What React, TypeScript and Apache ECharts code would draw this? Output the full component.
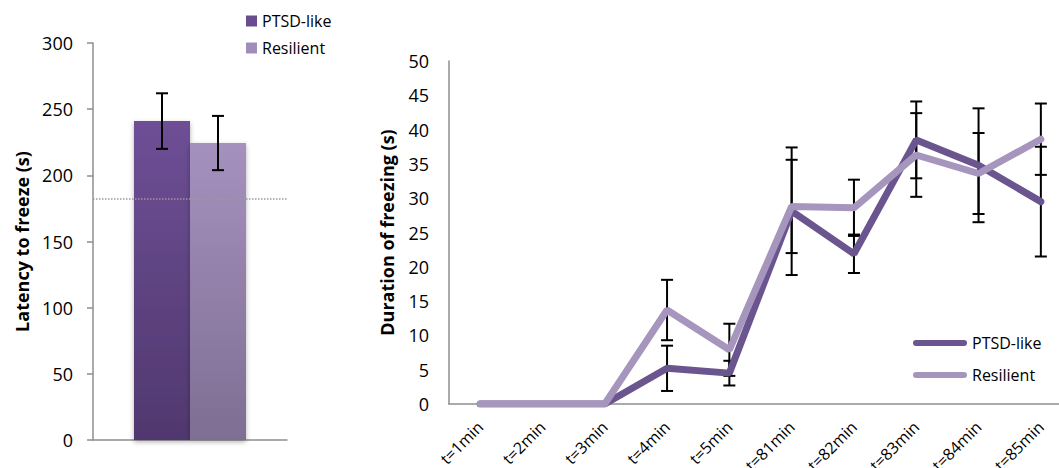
import React, { useEffect, useRef } from "react";
import * as echarts from "echarts";

const seriesNames = ["PTSD-like", "Resilient"];

// Left panel: latency to freeze
const latencyMean = [241, 224.4];
const latencyErr = [21, 20.5];
const latencyThreshold = 182;
const latencyTicks = { min: 0, max: 300, interval: 50 };

// Right panel: duration of freezing over time
const timeCategories = [
  "t=1min", "t=2min", "t=3min", "t=4min", "t=5min",
  "t=81min", "t=82min", "t=83min", "t=84min", "t=85min",
];
const ptsdMean = [0, 0, 0, 5.2, 4.5, 28.1, 21.9, 38.5, 34.8, 29.5];
const ptsdErr = [0, 0, 0, 3.3, 1.8, 9.3, 2.8, 5.6, 8.3, 8.0];
const resMean = [0, 0, 0, 13.7, 7.9, 28.8, 28.6, 36.3, 33.6, 38.6];
const resErr = [0, 0, 0, 4.4, 3.8, 6.8, 4.1, 6.1, 5.9, 5.2];
const freezeTicks = { min: 0, max: 50, interval: 5 };

const FONT = "'Open Sans', sans-serif";
const AXIS_GRAY = "#8e8e8e";
const BAR_W = 56;

function errRender(offsetFor: (i: number) => number, cap: number) {
  return (params: any, api: any) => {
    const x = api.value(0);
    const lo = api.value(1);
    const hi = api.value(2);
    const which = api.value(3);
    if (hi - lo <= 0) return null;
    const dx = offsetFor(which);
    const p1 = api.coord([x, hi]);
    const p2 = api.coord([x, lo]);
    const cx = p1[0] + dx;
    const st = { stroke: "#000", lineWidth: 2 };
    return {
      type: "group",
      children: [
        { type: "line", shape: { x1: cx, y1: p1[1], x2: cx, y2: p2[1] }, style: st },
        { type: "line", shape: { x1: cx - cap, y1: p1[1], x2: cx + cap, y2: p1[1] }, style: st },
        { type: "line", shape: { x1: cx - cap, y1: p2[1], x2: cx + cap, y2: p2[1] }, style: st },
      ],
    };
  };
}

export default function App() {
  const ref = useRef<HTMLDivElement>(null);
  useEffect(() => {
    document.body.style.margin = "0";
    const chart = echarts.init(ref.current!, null, { renderer: "svg" });

    const ptsdGrad = new echarts.graphic.LinearGradient(0, 0, 0, 1, [
      { offset: 0, color: "#6e4f96" },
      { offset: 1, color: "#50386e" },
    ]);
    const resGrad = new echarts.graphic.LinearGradient(0, 0, 0, 1, [
      { offset: 0, color: "#a591be" },
      { offset: 1, color: "#7e6e93" },
    ]);

    const latencyErrData = latencyMean.map((m, i) => [0, m - latencyErr[i], m + latencyErr[i], i]);
    const ptsdErrData = ptsdMean.map((m, i) => [i, m - ptsdErr[i], m + ptsdErr[i], 0]);
    const resErrData = resMean.map((m, i) => [i, m - resErr[i], m + resErr[i], 1]);

    const lineColors = ["#6b558f", "#a696bd"];

    chart.setOption({
      animation: false,
      textStyle: { fontFamily: FONT },
      grid: [
        { left: 93, top: 43, width: 194, height: 397, outerBoundsMode: "none", containLabel: false },
        { left: 449, top: 61, width: 623, height: 343, outerBoundsMode: "none", containLabel: false },
      ],
      legend: [
        {
          data: seriesNames.map((n, i) => ({ name: n, icon: "rect", itemStyle: { color: i === 0 ? "#6a4c91" : "#a08dba" } })),
          orient: "vertical",
          left: 241,
          top: 8,
          itemWidth: 11,
          itemHeight: 11,
          itemGap: 11,
          textStyle: { fontSize: 16, color: "#000", fontFamily: FONT },
          selectedMode: false,
        },
        {
          data: seriesNames.map((n, i) => ({
            name: n,
            icon: "path://M3,0 L51,0 A3,3 0 0 1 51,6 L3,6 A3,3 0 0 1 3,0 Z",
            itemStyle: { color: lineColors[i] },
          })),
          orient: "vertical",
          left: 908,
          top: 330,
          itemWidth: 54,
          itemHeight: 7,
          itemGap: 16,
          textStyle: { fontSize: 16, color: "#000", fontFamily: FONT },
          selectedMode: false,
        },
      ],
      xAxis: [
        {
          gridIndex: 0,
          type: "category",
          data: [""],
          axisLine: { lineStyle: { color: AXIS_GRAY, width: 1.5 } },
          axisTick: { show: false },
          axisLabel: { show: false },
        },
        {
          gridIndex: 1,
          type: "category",
          data: timeCategories,
          boundaryGap: true,
          axisLine: { lineStyle: { color: AXIS_GRAY, width: 1.5 } },
          axisTick: { show: false },
          axisLabel: { rotate: 45, fontSize: 16, color: "#000", margin: 20, fontFamily: FONT },
        },
      ],
      yAxis: [
        {
          gridIndex: 0,
          type: "value",
          ...latencyTicks,
          name: "Latency to freeze (s)",
          nameLocation: "middle",
          nameGap: 62,
          nameTextStyle: { fontSize: 18, fontWeight: "bold", color: "#000", fontFamily: FONT },
          axisLine: { show: true, lineStyle: { color: AXIS_GRAY, width: 1.5 } },
          axisTick: { show: true, length: 6, lineStyle: { color: AXIS_GRAY, width: 1.5 } },
          axisLabel: { fontSize: 18, color: "#000", margin: 20, fontFamily: FONT },
          splitLine: { show: false },
        },
        {
          gridIndex: 1,
          type: "value",
          ...freezeTicks,
          name: "Duration of freezing (s)",
          nameLocation: "middle",
          nameGap: 53,
          nameTextStyle: { fontSize: 18, fontWeight: "bold", color: "#000", fontFamily: FONT },
          axisLine: { show: true, lineStyle: { color: AXIS_GRAY, width: 1.5 } },
          axisTick: { show: false },
          axisLabel: { fontSize: 18, color: "#000", margin: 20, fontFamily: FONT },
          splitLine: { show: false },
        },
      ],
      series: [
        {
          name: seriesNames[0],
          type: "bar",
          xAxisIndex: 0,
          yAxisIndex: 0,
          data: [latencyMean[0]],
          barWidth: BAR_W,
          barGap: "0%",
          itemStyle: { color: ptsdGrad, shadowBlur: 5, shadowColor: "rgba(0,0,0,0.3)", shadowOffsetY: 2 },
          markLine: {
            silent: true,
            symbol: "none",
            label: { show: false },
            lineStyle: { color: "#9a9a9a", type: "dotted", width: 1.5 },
            data: [{ yAxis: latencyThreshold }],
          },
          z: 2,
        },
        {
          name: seriesNames[1],
          type: "bar",
          xAxisIndex: 0,
          yAxisIndex: 0,
          data: [latencyMean[1]],
          barWidth: BAR_W,
          barGap: "0%",
          itemStyle: { color: resGrad, shadowBlur: 5, shadowColor: "rgba(0,0,0,0.3)", shadowOffsetY: 2 },
          z: 2,
        },
        {
          type: "custom",
          xAxisIndex: 0,
          yAxisIndex: 0,
          renderItem: errRender((w) => (w === 0 ? -BAR_W / 2 : BAR_W / 2), 6),
          encode: { x: 0, y: [1, 2] },
          data: latencyErrData,
          z: 5,
          silent: true,
        },
        {
          type: "custom",
          xAxisIndex: 1,
          yAxisIndex: 1,
          renderItem: errRender(() => 0, 6),
          encode: { x: 0, y: [1, 2] },
          data: ptsdErrData.concat(resErrData),
          z: 1,
          silent: true,
        },
        {
          name: seriesNames[0],
          type: "line",
          xAxisIndex: 1,
          yAxisIndex: 1,
          data: ptsdMean,
          symbol: "none",
          lineStyle: { color: lineColors[0], width: 7, cap: "round" },
          itemStyle: { color: lineColors[0] },
          z: 3,
        },
        {
          name: seriesNames[1],
          type: "line",
          xAxisIndex: 1,
          yAxisIndex: 1,
          data: resMean,
          symbol: "none",
          lineStyle: { color: lineColors[1], width: 7, cap: "round" },
          itemStyle: { color: lineColors[1] },
          z: 4,
        },
      ],
    });
    return () => chart.dispose();
  }, []);
  return <div ref={ref} style={{ width: 1059, height: 468 }} />;
}
